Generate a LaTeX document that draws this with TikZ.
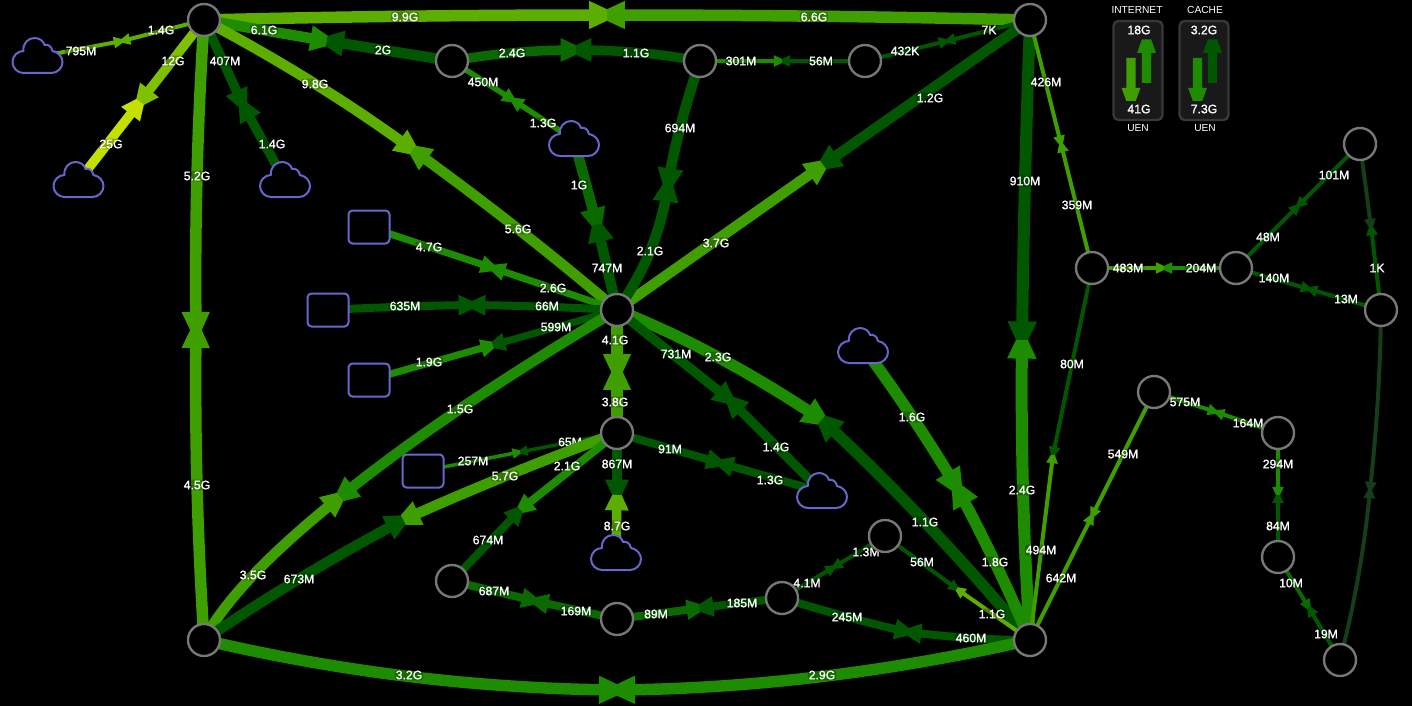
\documentclass[tikz,border=0pt]{standalone}
\usepackage{fontspec}
\setmainfont{Liberation Sans}
\newfontfamily\labfont[FakeBold=1.2]{Liberation Sans}
\usetikzlibrary{calc}
\pgfdeclarelayer{links}
\pgfsetlayers{links,main}
\definecolor{dk}{HTML}{005700}
\definecolor{dm}{HTML}{0A6A00}
\definecolor{gr}{HTML}{1E8C00}
\definecolor{lg}{HTML}{3F9F00}
\definecolor{yg}{HTML}{5CAF00}
\definecolor{lm}{HTML}{7FC000}
\definecolor{ye}{HTML}{C4E000}
\definecolor{vd}{HTML}{173C1A}
\definecolor{bl}{HTML}{6666CC}
\definecolor{rim}{HTML}{777777}
\tikzset{
  router/.style={circle,draw=rim,line width=2.4pt,fill=black,minimum size=32pt,inner sep=0},
  sitebox/.style={rectangle,rounded corners=4pt,draw=bl,line width=2pt,fill=black,minimum width=41pt,minimum height=33pt,inner sep=0},
  cloudanchor/.style={inner sep=0,minimum width=50pt,minimum height=35pt},
  cloudline/.style={draw=bl,line width=2pt,fill=black,line join=round},
  lbl/.style={text=white,font=\labfont\fontsize{12.2}{12}\selectfont,fill=black,fill opacity=.25,text opacity=1,rounded corners=3pt,inner sep=1pt},
  legbox/.style={rectangle,rounded corners=5pt,draw=black!78!white,line width=2.4pt,fill=black!90!white,minimum width=49pt,minimum height=99pt,inner sep=0},
  legtxt/.style={text=white,font=\fontsize{10.2}{10}\selectfont,inner sep=0},
  legval/.style={text=white,font=\labfont\fontsize{12.2}{12}\selectfont,inner sep=0}
}
\newcounter{labc}
\newcounter{lnkc}
\newcommand\lab[2]{\stepcounter{labc}\node[lbl] (lab\thelabc) at (#1) {#2};}
% half link: from, to-mid, control, width, colour
\newcommand\halfl[5]{%
  \draw[line width=#4pt,#5] (#1.center) .. controls ($(#1.center)!.667!(#3)$) and ($(#2)!.667!(#3)$) .. (#2);
  \path let \p1=($(#2)-(#3)$), \n1={atan2(\y1,\x1)} in \pgfextra{\xdef\lnkang{\n1}};
  \pgfmathsetmacro\hL{1.3*#4+3}\pgfmathsetmacro\hH{1.1*#4+1.5}\pgfmathsetmacro\hT{#4/2}
  \fill[#5,shift={(#2)},rotate=\lnkang] (-\hL,\hH) -- (0,\hT) -- (0,-\hT) -- (-\hL,-\hH) -- cycle;
}
% curved: a b mid ctrlA ctrlB width colA colB
\newcommand\clnk[8]{\stepcounter{lnkc}%
  \coordinate (m\thelnkc) at (#3);
  \coordinate (ca\thelnkc) at (#4);
  \coordinate (cb\thelnkc) at (#5);
  \halfl{#1}{m\thelnkc}{ca\thelnkc}{#6}{#7}
  \halfl{#2}{m\thelnkc}{cb\thelnkc}{#6}{#8}
}
% straight: a b mid width colA colB
\newcommand\lnk[6]{\stepcounter{lnkc}%
  \coordinate (m\thelnkc) at (#3);
  \coordinate (ca\thelnkc) at ($(#1.center)!.5!(m\thelnkc)$);
  \coordinate (cb\thelnkc) at ($(#2.center)!.5!(m\thelnkc)$);
  \halfl{#1}{m\thelnkc}{ca\thelnkc}{#4}{#5}
  \halfl{#2}{m\thelnkc}{cb\thelnkc}{#4}{#6}
}
\newcommand\cloudnode[2]{%
  \node[cloudanchor] (#1) at (#2) {};
  \draw[cloudline,shift={(#1.center)}] (-14,16) .. controls (-20,16) and (-25,11) .. (-25,5) .. controls (-25,-1) and (-20,-6) .. (-14,-6) .. controls (-15,-14) and (-9,-19) .. (-3,-19) .. controls (2,-19) and (6,-16) .. (7,-12) .. controls (10,-13) and (14,-11) .. (15,-6) .. controls (21,-5) and (25,0) .. (25,5) .. controls (25,11) and (20,16) .. (14,16) -- cycle;
}
\newcommand\legdown[2]{\fill[#2,shift={(#1,0)}] (-4.7,58) -- (4.7,58) -- (4.7,88) -- (9.4,88) -- (4.7,101) -- (-4.7,101) -- (-9.4,88) -- (-4.7,88) -- cycle;}
\newcommand\legup[2]{\fill[#2,shift={(#1,0)}] (-4.7,83) -- (4.7,83) -- (4.7,53) -- (9.4,53) -- (4.7,39.5) -- (-4.7,39.5) -- (-9.4,53) -- (-4.7,53) -- cycle;}
\begin{document}
\begin{tikzpicture}[x=1pt,y=-1pt]
\useasboundingbox (0,0) rectangle (1412,706);
% routers
\foreach \n/\p in {T1/{204,20},T2/{1030,20},N3/{452,61},N4/{700,61},N5/{865,61},C/{617,310},D/{617,433},BL/{204,640},BR/{1030,640},
  N6/{1092,268},N7/{1236,268},N8/{1360,144},N9/{1381,310},N10/{1154,392},N11/{1278,433},N12/{1278,557},N13/{1340,660},
  N14/{885,536},N15/{782,598},N16/{617,619},N17/{452,581}}
  {\node[router] (\n) at (\p) {};}
% sites
\node[sitebox] (B1) at (369,227) {};
\node[sitebox] (B2) at (328,310) {};
\node[sitebox] (B3) at (369,380) {};
\node[sitebox] (B4) at (423,471) {};
\cloudnode{K1}{37.5,57}
\cloudnode{K2}{78.5,181}
\cloudnode{K3}{285,181}
\cloudnode{K4}{574,140}
\cloudnode{K5}{863,347}
\cloudnode{K6}{822,492}
\cloudnode{K7}{616,554}
\begin{pgfonlayer}{links}
\fill[black] (0,0) rectangle (1412,706);
\lnk{T1}{K1}{122,41}{4}{yg}{yg}
\lab{161,30}{1.4G}\lab{81,51}{795M}
\lnk{T1}{K2}{140,102}{9.5}{lm}{ye}
\lab{173,61}{12G}\lab{111,144}{25G}
\lnk{T1}{K3}{243,105}{9.5}{dk}{dk}
\lab{225,61}{407M}\lab{272,144}{1.4G}
\clnk{T1}{BL}{196,330}{194,177}{194,485}{11.5}{lg}{lg}
\lab{197,176}{5.2G}\lab{197,485}{4.5G}
\clnk{T1}{T2}{607,15}{405,15}{820,15}{11.5}{yg}{lg}
\lab{405,17}{9.9G}\lab{814,17}{6.6G}
\lnk{T1}{N3}{327,41}{10.5}{gr}{dk}
\lab{264,30}{6.1G}\lab{383,50}{2G}
\clnk{T1}{C}{413,150}{322,83}{521,228}{10.5}{yg}{lg}
\lab{315,84}{9.8G}\lab{518,229}{5.6G}
\clnk{N3}{N4}{576,50}{512,50}{640,50}{9.5}{dm}{dk}
\lab{512,53}{2.4G}\lab{636,53}{1.1G}
\lnk{N3}{K4}{513,100}{5.5}{gr}{gr}
\lab{483,82}{450M}\lab{543,123}{1.3G}
\lnk{N4}{N5}{782,61}{4}{gr}{dk}
\lab{741,61}{301M}\lab{821,61}{56M}
\lnk{N5}{T2}{947,41}{4}{dk}{dk}
\lab{905,51}{432K}\lab{989,30}{7K}
\lnk{T2}{C}{823,165}{10.5}{dk}{lg}
\lab{930,98}{1.2G}\lab{716,243}{3.7G}
\clnk{N4}{C}{668,185}{676,133}{658,254}{10.5}{dk}{dk}
\lab{680,128}{694M}\lab{650,251}{2.1G}
\lnk{K4}{C}{597,225}{10.5}{dm}{dk}
\lab{579,185}{1G}\lab{607,268}{747M}
\lnk{B1}{C}{493,268}{7}{gr}{gr}
\lab{429,247}{4.7G}\lab{553,288}{2.6G}
\clnk{B2}{C}{472,305}{400,306}{545,306}{8}{dk}{dk}
\lab{405,306}{635M}\lab{547,306}{66M}
\lnk{B3}{C}{493,345}{7}{gr}{dk}
\lab{429,362}{1.9G}\lab{556,327}{599M}
\clnk{C}{BL}{340,497}{442,414}{234,582}{10.5}{gr}{lg}
\lab{460,409}{1.5G}\lab{253,575}{3.5G}
\lnk{C}{D}{617,372}{11.5}{lg}{lg}
\lab{615,340}{4.1G}\lab{615,402}{3.8G}
\clnk{C}{BR}{822,420}{716,349}{924,514}{11.5}{gr}{dk}
\lab{718,357}{2.3G}\lab{925,522}{1.1G}
\lnk{C}{K6}{730,400}{9.5}{dk}{dk}
\lab{676,354}{731M}\lab{776,447}{1.4G}
\lnk{D}{B4}{520,452}{3.5}{dk}{gr}
\lab{570,442}{65M}\lab{473,461}{257M}
\clnk{D}{BL}{403,520}{500,476}{294,578}{10.5}{lg}{dk}
\lab{505,476}{5.7G}\lab{299,579}{673M}
\lnk{D}{N17}{520,510}{8}{gr}{dk}
\lab{567,466}{2.1G}\lab{488,540}{674M}
\lnk{D}{K7}{617,495}{9.5}{dk}{yg}
\lab{617,464}{867M}\lab{617,526}{8.7G}
\lnk{D}{K6}{720,463}{8}{dk}{dk}
\lab{670,449}{91M}\lab{770,480}{1.3G}
\lnk{N17}{N16}{535,601}{8}{dm}{dm}
\lab{494,591}{687M}\lab{576,611}{169M}
\lnk{N16}{N15}{700,608}{8}{dm}{dk}
\lab{656,614}{89M}\lab{742,603}{185M}
\lnk{N15}{N14}{834,567}{4}{dk}{dk}
\lab{807,583}{4.1M}\lab{866,552}{1.3M}
\clnk{N15}{BR}{908,632}{850,619}{973,640}{8}{dk}{dk}
\lab{847,617}{245M}\lab{971,638}{460M}
\lnk{N14}{BR}{957,589}{4}{dk}{yg}
\lab{922,562}{56M}\lab{992,614}{1.1G}
\clnk{BL}{BR}{617,690}{408,688}{820,688}{11.5}{gr}{gr}
\lab{409,675}{3.2G}\lab{822,675}{2.9G}
\clnk{K5}{BR}{957,488}{914,416}{996,560}{11.5}{gr}{gr}
\lab{912,417}{1.6G}\lab{995,562}{1.8G}
\clnk{T2}{BR}{1022,340}{1024,182}{1020,490}{12}{dk}{gr}
\lab{1025,181}{910M}\lab{1022,490}{2.4G}
\lnk{T2}{N6}{1061,144}{4}{lg}{lg}
\lab{1046,82}{426M}\lab{1077,205}{359M}
\lnk{N6}{BR}{1053,455}{4}{dk}{lg}
\lab{1072,364}{80M}\lab{1041,550}{494M}
\lnk{N10}{BR}{1092,516}{4}{lg}{lg}
\lab{1123,454}{549M}\lab{1061,578}{642M}
\lnk{N6}{N7}{1164,268}{4}{lg}{gr}
\lab{1128,268}{483M}\lab{1201,268}{204M}
\lnk{N7}{N8}{1298,206}{4}{dk}{dk}
\lab{1268,237}{48M}\lab{1334,175}{101M}
\lnk{N7}{N9}{1309,289}{4}{dk}{dk}
\lab{1274,278}{140M}\lab{1346,299}{13M}
\lnk{N8}{N9}{1371,227}{4}{vd}{dk}
\lab{1377,268}{1K}
\clnk{N9}{N13}{1370,490}{1380,400}{1362,575}{4}{vd}{vd}
\lnk{N10}{N11}{1216,412}{4}{gr}{gr}
\lab{1185,402}{575M}\lab{1248,423}{164M}
\lnk{N11}{N12}{1278,495}{4}{gr}{dk}
\lab{1278,464}{294M}\lab{1278,526}{84M}
\lnk{N12}{N13}{1309,608}{4}{dm}{dk}
\lab{1291,583}{10M}\lab{1326,634}{19M}
\end{pgfonlayer}
% legend
\node[legbox] (LegA) at (1138,70.5) {};
\node[legbox] (LegB) at (1204,70.5) {};
\legdown{1131}{lg}\legup{1146.5}{gr}
\legdown{1197.5}{gr}\legup{1212.5}{dk}
\node[legtxt] (LegAt) at (1137,10) {INTERNET};
\node[legtxt] (LegBt) at (1205,10) {CACHE};
\node[legtxt] (LegAb) at (1138,128) {UEN};
\node[legtxt] (LegBb) at (1205,128) {UEN};
\node[legval] (LegA1) at (1139,30) {18G};
\node[legval] (LegA2) at (1139,109) {41G};
\node[legval] (LegB1) at (1204,30) {3.2G};
\node[legval] (LegB2) at (1204,109) {7.3G};
\end{tikzpicture}
\end{document}
